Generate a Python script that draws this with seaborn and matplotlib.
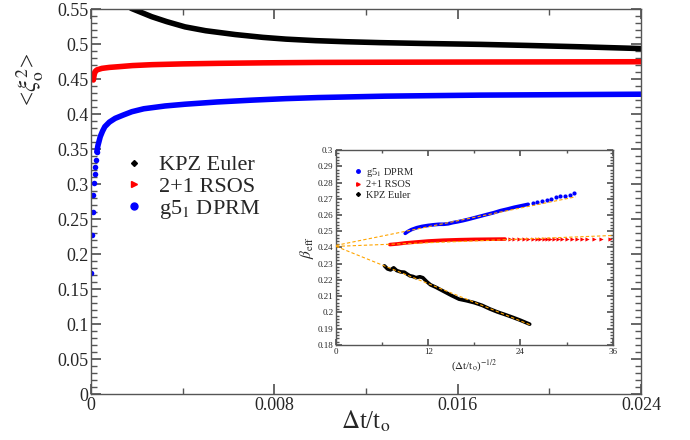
import numpy as np
import pandas as pd
import seaborn as sns
import matplotlib
import matplotlib.pyplot as plt
from matplotlib.lines import Line2D
from matplotlib.ticker import MultipleLocator, FuncFormatter

matplotlib.use("Agg")
sns.set_theme(style="ticks")
plt.rcParams["font.family"] = ["Liberation Serif", "DejaVu Serif"]
plt.rcParams["mathtext.fontset"] = "stix"

# main panel: <xi^2> vs dt/t0
kpz_x = [0.00175, 0.0022, 0.00265, 0.0033, 0.0041, 0.005, 0.0063, 0.0075, 0.0085,
         0.0098, 0.0111, 0.0126, 0.0145, 0.017, 0.019, 0.0213, 0.024]
kpz_y = [0.551, 0.545, 0.539, 0.532, 0.5245, 0.519, 0.5135, 0.5095, 0.507,
         0.5048, 0.5033, 0.502, 0.5008, 0.4995, 0.498, 0.4961, 0.4935]

rsos_x = [0.0001, 0.00013, 0.00017, 0.00025, 0.00047, 0.0008, 0.0012, 0.0018, 0.00266,
          0.004, 0.00556, 0.0075, 0.0099, 0.013, 0.017, 0.024]
rsos_y = [0.4486, 0.455, 0.4604, 0.463, 0.4652, 0.4666, 0.4676, 0.4692, 0.4705,
          0.4716, 0.4724, 0.4731, 0.4737, 0.474, 0.4743, 0.4747]

dprm_sparse_x = [0.00001, 0.00004, 0.00007, 0.0001, 0.00012, 0.00015, 0.00017, 0.0002, 0.00025]
dprm_sparse_y = [0.1733, 0.227, 0.2605, 0.2843, 0.301, 0.3138, 0.3248, 0.3343, 0.346]
dprm_x = [0.00025, 0.0003, 0.0004, 0.0005, 0.0006, 0.0008, 0.00105, 0.0014, 0.00178,
          0.0023, 0.00323, 0.0041, 0.0055, 0.007, 0.0085, 0.0099, 0.0128, 0.017, 0.024]
dprm_y = [0.346, 0.355, 0.3676, 0.3755, 0.3819, 0.3885, 0.3938, 0.3985, 0.4033,
          0.4075, 0.4115, 0.414, 0.4172, 0.4198, 0.422, 0.4235, 0.4255, 0.427, 0.4283]

# inset: beta_eff vs (dt/t0)^(-1/2)
in_dprm_x = [9.0, 9.4, 9.8, 10.5, 11.2, 12.0, 12.7, 13.4, 14.0, 14.6, 15.2, 15.8, 16.5,
             17.2, 18.0, 18.8, 19.6, 20.5, 21.4, 22.3, 23.2, 24.1, 25.0]
in_dprm_y = [0.2487, 0.2500, 0.2510, 0.2522, 0.2530, 0.2536, 0.2540, 0.2543, 0.2543, 0.2546,
             0.2553, 0.2558, 0.2565, 0.2573, 0.2583, 0.2593, 0.2603, 0.2614, 0.2627, 0.2637,
             0.2648, 0.2657, 0.2666]
in_dprm_tail_x = [25.6, 26.2, 26.8, 27.4, 28.0, 28.6, 29.2, 29.8, 30.4, 31.0]
in_dprm_tail_y = [0.2672, 0.2680, 0.2687, 0.2694, 0.2701, 0.2708, 0.2714, 0.2720, 0.2726, 0.2733]

in_rsos_x = [7.0, 8.0, 9.0, 10.0, 11.0, 12.0, 14.0, 16.0, 18.0, 20.0, 22.0]
in_rsos_y = [0.2418, 0.2422, 0.2428, 0.2432, 0.2436, 0.2440, 0.2445, 0.2448, 0.2450, 0.2451, 0.2452]
in_rsos_tail_x = [22.6, 23.2, 23.8, 24.4, 25.0, 25.6, 26.1, 26.5, 27.0, 27.4, 27.8, 28.4,
                  28.9, 29.4, 30.0, 30.7, 31.3, 32.0, 32.6, 33.5, 34.5, 35.7]
in_rsos_tail_y = [0.2452, 0.2452, 0.2453, 0.2453, 0.2453, 0.2453, 0.2454, 0.2454, 0.2454, 0.2454,
                  0.2454, 0.2454, 0.2455, 0.2455, 0.2455, 0.2455, 0.2455, 0.2455, 0.2455, 0.2455,
                  0.2455, 0.2455]

in_kpz_x = [6.3, 6.7, 7.1, 7.5, 7.9, 8.4, 8.9, 9.2, 9.6, 10.0, 10.4, 10.9, 11.3, 11.8, 12.3,
            13.0, 14.0, 15.0, 16.0, 17.0, 18.0, 19.0, 20.0, 21.0, 22.0, 23.0, 24.0, 24.6, 25.2]
in_kpz_y = [0.2287, 0.2268, 0.2262, 0.2275, 0.2258, 0.2250, 0.2248, 0.2238, 0.2226, 0.2222,
            0.2214, 0.2220, 0.2214, 0.2190, 0.2170, 0.2155, 0.2130, 0.2105, 0.2082, 0.2072,
            0.2060, 0.2044, 0.2022, 0.2003, 0.1987, 0.1970, 0.1952, 0.1940, 0.1928]

# linear fits extrapolated to the origin
fit_dprm_x, fit_dprm_y = [0, 31.2], [0.2413, 0.2712]
fit_rsos_x, fit_rsos_y = [0, 36.0], [0.2407, 0.2474]
fit_kpz_x, fit_kpz_y = [0, 25.2], [0.2407, 0.1925]

BLACK, RED, BLUE, ORANGE = "#000000", "#ff0000", "#0000ff", "#ffa500"
SPINE = "#555555"


def style_axes(ax, size, major, minor):
    for s in ax.spines.values():
        s.set_color(SPINE)
        s.set_linewidth(1.0)
    ax.tick_params(which="both", direction="in", top=True, right=True,
                   color=SPINE, labelsize=size, pad=2)
    ax.tick_params(which="major", length=major)
    ax.tick_params(which="minor", length=minor)


fig = plt.figure(figsize=(6.9, 4.4), dpi=100)
ax = fig.add_axes([0.132, 0.1045, 0.797, 0.875])

line_kw = dict(linewidth=4.0, solid_capstyle="round", ax=ax, legend=False)
sns.lineplot(x=kpz_x, y=kpz_y, color=BLACK, **line_kw)
sns.lineplot(x=rsos_x, y=rsos_y, color=RED, **line_kw)
sns.lineplot(x=dprm_x, y=dprm_y, color=BLUE, **line_kw)
sns.scatterplot(x=dprm_sparse_x, y=dprm_sparse_y, color=BLUE, s=16, linewidth=0, ax=ax)

ax.set_xlim(0, 0.024)
ax.set_ylim(0, 0.55)
ax.xaxis.set_major_locator(MultipleLocator(0.008))
ax.xaxis.set_minor_locator(MultipleLocator(0.004))
ax.yaxis.set_major_locator(MultipleLocator(0.05))
ax.yaxis.set_minor_locator(MultipleLocator(0.01))
fmt = FuncFormatter(lambda v, p: f"{v:g}")
ax.xaxis.set_major_formatter(fmt)
ax.yaxis.set_major_formatter(fmt)
style_axes(ax, 13, 7, 4)
ax.set_xlabel(r"$\Delta$t/t$_\mathrm{o}$", fontsize=18, labelpad=-4)
ax.text(-0.111, 0.816, r"<$\xi_\mathrm{o}^2$>", rotation=90, fontsize=18,
        ha="center", va="center", transform=ax.transAxes)

main_handles = [
    Line2D([], [], ls="", marker="D", ms=3, color=BLACK, label="KPZ Euler"),
    Line2D([], [], ls="", marker=">", ms=4, color=RED, label="2+1 RSOS"),
    Line2D([], [], ls="", marker="o", ms=5, color=BLUE, label=r"g5$_1$ DPRM"),
]
ax.legend(handles=main_handles, loc="upper left", bbox_to_anchor=(0.058, 0.621),
          frameon=False, fontsize=16, borderpad=0, handlelength=1.0,
          handletextpad=0.6, labelspacing=0.05, borderaxespad=0)

# inset
ins = fig.add_axes([0.487, 0.216, 0.401, 0.443])
in_kw = dict(linewidth=2.6, solid_capstyle="round", ax=ins, legend=False)
sns.lineplot(x=in_kpz_x, y=in_kpz_y, color=BLACK, **in_kw)
sns.lineplot(x=in_rsos_x, y=in_rsos_y, color=RED, **in_kw)
sns.lineplot(x=in_dprm_x, y=in_dprm_y, color=BLUE, **in_kw)
sns.scatterplot(x=in_rsos_tail_x, y=in_rsos_tail_y, color=RED, marker=">", s=9,
                linewidth=0, ax=ins)
sns.scatterplot(x=in_dprm_tail_x, y=in_dprm_tail_y, color=BLUE, marker="o", s=9,
                linewidth=0, ax=ins)
fit_kw = dict(color=ORANGE, linewidth=0.8, ax=ins, legend=False, zorder=5)
for fx, fy in [(fit_dprm_x, fit_dprm_y), (fit_rsos_x, fit_rsos_y), (fit_kpz_x, fit_kpz_y)]:
    l = sns.lineplot(x=fx, y=fy, **fit_kw).lines[-1]
    l.set_dashes((3, 2))

ins.set_xlim(0, 36)
ins.set_ylim(0.18, 0.30)
ins.xaxis.set_major_locator(MultipleLocator(12))
ins.xaxis.set_minor_locator(MultipleLocator(6))
ins.yaxis.set_major_locator(MultipleLocator(0.01))
ins.yaxis.set_minor_locator(MultipleLocator(0.002))
ins.xaxis.set_major_formatter(fmt)
ins.yaxis.set_major_formatter(fmt)
style_axes(ins, 6.5, 4, 2)
ins.set_xlabel(r"($\Delta$t/t$_\mathrm{o}$)$^{-1/2}$", fontsize=8, labelpad=1)
ins.set_ylabel(r"$\beta_\mathrm{eff}$", fontsize=11, labelpad=1)

inset_handles = [
    Line2D([], [], ls="", marker="o", ms=2.5, color=BLUE, label=r"g5$_1$ DPRM"),
    Line2D([], [], ls="", marker=">", ms=2.5, color=RED, label="2+1 RSOS"),
    Line2D([], [], ls="", marker="D", ms=2, color=BLACK, label="KPZ Euler"),
]
ins.legend(handles=inset_handles, loc="upper left", bbox_to_anchor=(0.061, 0.918),
           frameon=False, fontsize=7.5, borderpad=0, handlelength=1.0,
           handletextpad=0.3, labelspacing=0.1, borderaxespad=0)

fig.savefig("out.png", dpi=100)
